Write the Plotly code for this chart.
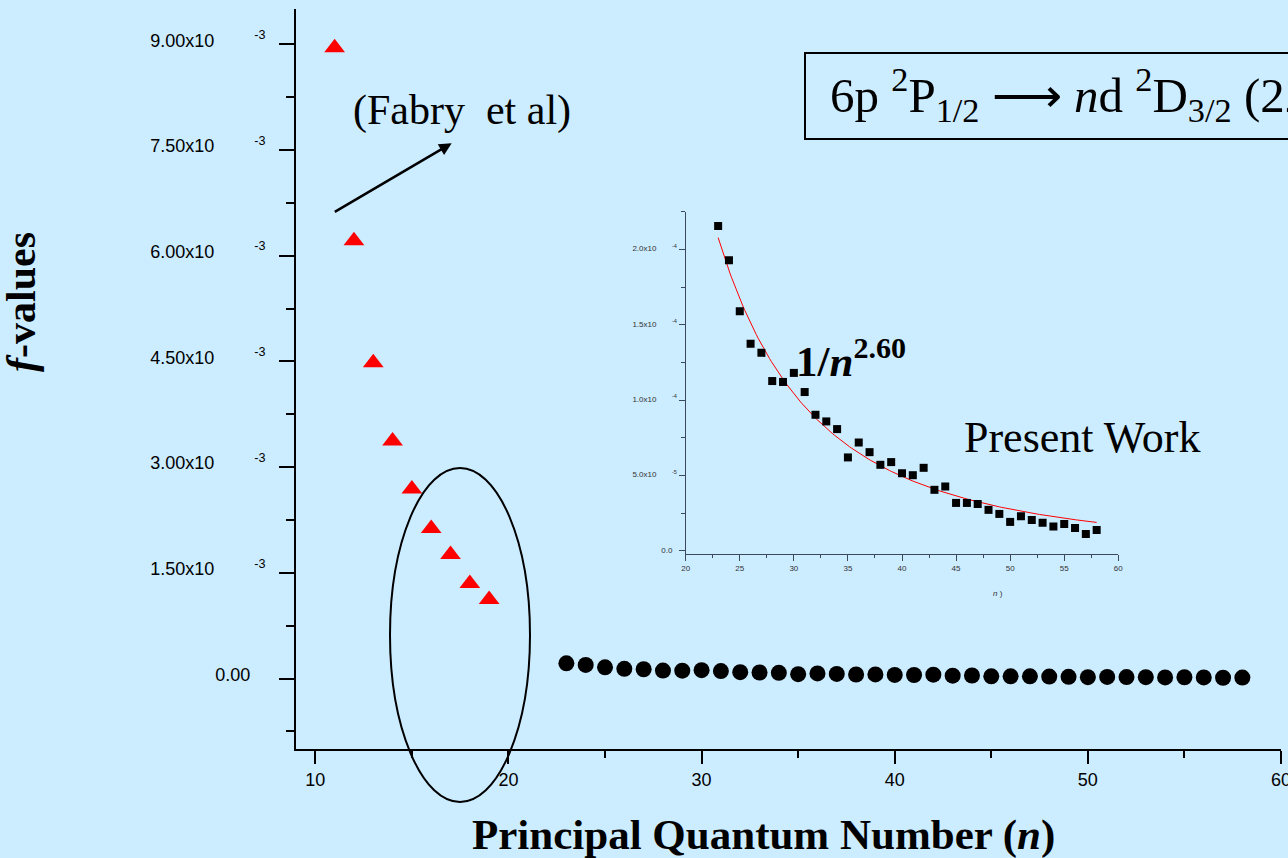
import numpy as np
import plotly.graph_objects as go

# ---- data -------------------------------------------------------------
# Fabry et al. oscillator strengths, n = 11..19
fabry_n = [11, 12, 13, 14, 15, 16, 17, 18, 19]
fabry_f = [8.95e-3, 6.21e-3, 4.48e-3, 3.37e-3, 2.69e-3, 2.13e-3, 1.76e-3, 1.35e-3, 1.12e-3]

# present work, n = 23..58
present_n = list(range(23, 59))
present_f = [
    21.55e-5, 19.27e-5, 15.90e-5, 13.73e-5, 13.13e-5, 11.26e-5, 11.20e-5, 11.80e-5,
    10.53e-5, 9.02e-5, 8.58e-5, 8.07e-5, 6.19e-5, 7.18e-5, 6.54e-5, 5.70e-5,
    5.88e-5, 5.14e-5, 5.01e-5, 5.50e-5, 4.04e-5, 4.26e-5, 3.17e-5, 3.17e-5,
    3.10e-5, 2.71e-5, 2.44e-5, 1.91e-5, 2.28e-5, 2.04e-5, 1.86e-5, 1.60e-5,
    1.77e-5, 1.51e-5, 1.11e-5, 1.37e-5,
]

# scaling law exponent of the fitted curve
FIT_EXPONENT = 2.60

main_ytick_vals = [0, 1.5e-3, 3.0e-3, 4.5e-3, 6.0e-3, 7.5e-3, 9.0e-3]
main_ytick_base = ["0.00", "1.50x10", "3.00x10", "4.50x10", "6.00x10", "7.50x10", "9.00x10"]
main_ytick_exp = ["", "-3", "-3", "-3", "-3", "-3", "-3"]
main_xtick_vals = [10, 20, 30, 40, 50, 60]

inset_ytick_vals = [0, 5e-5, 1e-4, 1.5e-4, 2e-4]
inset_ytick_base = ["0.0", "5.0x10", "1.0x10", "1.5x10", "2.0x10"]
inset_ytick_exp = ["", "-5", "-4", "-4", "-4"]
inset_xtick_vals = [20, 25, 30, 35, 40, 45, 50, 55, 60]

# ---- helpers ----------------------------------------------------------
NB = "\u00a0"


def tick_labels(bases, exps, gap, pad_plain):
    out = []
    for b, e in zip(bases, exps):
        if e:
            out.append(b + NB * gap + "<sup>" + e + "</sup>")
        else:
            out.append(b + NB * pad_plain)
    return out


# least-squares amplitude for f = A / n^p with p fixed
n_arr = np.array(present_n, dtype=float)
f_arr = np.array(present_f)
basis = n_arr ** (-FIT_EXPONENT)
fit_amp = float(np.sum(f_arr * basis) / np.sum(basis * basis))
fit_n = np.linspace(present_n[0], present_n[-1], 200)
fit_f = fit_amp * fit_n ** (-FIT_EXPONENT)

BG = "#CCECFF"
SERIF = "Times New Roman, Liberation Serif, serif"
SANS = "Arial, Liberation Sans, sans-serif"

W, H = 1288, 858
ML, MR, MT, MB = 296, 7, 9, 109
PW, PH = W - ML - MR, H - MT - MB


def px(x):
    return (x - ML) / PW


def py(y):
    return (H - MB - y) / PH


fig = go.Figure()

# main panel
fig.add_trace(go.Scatter(
    x=fabry_n, y=fabry_f, mode="markers",
    marker=dict(symbol="triangle-up", size=18, color="#FF0000"),
    xaxis="x", yaxis="y", showlegend=False,
))
fig.add_trace(go.Scatter(
    x=present_n, y=present_f, mode="markers",
    marker=dict(symbol="circle", size=16, color="black"),
    xaxis="x", yaxis="y", showlegend=False,
))

# inset panel
fig.add_trace(go.Scatter(
    x=fit_n, y=fit_f, mode="lines",
    line=dict(color="#FF0000", width=1),
    xaxis="x2", yaxis="y2", showlegend=False,
))
fig.add_trace(go.Scatter(
    x=present_n, y=present_f, mode="markers",
    marker=dict(symbol="square", size=8, color="black"),
    xaxis="x2", yaxis="y2", showlegend=False,
))

fig.update_layout(
    width=W, height=H,
    margin=dict(l=ML, r=MR, t=MT, b=MB, pad=0, autoexpand=False),
    paper_bgcolor=BG, plot_bgcolor=BG,
    xaxis=dict(
        domain=[0, 1], range=[9, 60], anchor="y", automargin=False,
        showgrid=False, zeroline=False,
        showline=True, linecolor="black", linewidth=2,
        ticks="outside", ticklen=13, tickwidth=1.5, tickcolor="black",
        tickvals=main_xtick_vals, ticktext=[str(v) for v in main_xtick_vals],
        tickfont=dict(family=SANS, size=18, color="black"),
        ticklabeloverflow="allow",
        minor=dict(tickmode="linear", tick0=0, dtick=5, ticks="outside",
                   ticklen=7, tickwidth=1.5, tickcolor="black"),
    ),
    yaxis=dict(
        domain=[0, 1], range=[-1.0e-3, 9.5e-3], anchor="x", automargin=False,
        showgrid=False, zeroline=False,
        showline=True, linecolor="black", linewidth=2,
        ticks="outside", ticklen=15, tickwidth=1.5, tickcolor="black",
        tickvals=main_ytick_vals,
        ticktext=tick_labels(main_ytick_base, main_ytick_exp, 8, 3),
        tickfont=dict(family=SANS, size=18, color="black"),
        ticklabelstandoff=10, ticklabelshift=-4,
        minor=dict(tickmode="linear", tick0=0, dtick=0.75e-3, ticks="outside",
                   ticklen=8, tickwidth=1.5, tickcolor="black"),
    ),
    xaxis2=dict(
        domain=[px(685.7), px(1118.3)], range=[20, 60], anchor="y2", automargin=False,
        showgrid=False, zeroline=False,
        showline=True, linecolor="#3A4A5A", linewidth=1.3,
        ticks="outside", ticklen=6, tickwidth=1, tickcolor="#3A4A5A",
        tickvals=inset_xtick_vals, ticktext=[str(v) for v in inset_xtick_vals],
        tickfont=dict(family=SANS, size=8, color="#333333"),
        minor=dict(tickmode="linear", tick0=20, dtick=2.5, ticks="outside",
                   ticklen=3, tickwidth=1, tickcolor="#3A4A5A"),
    ),
    yaxis2=dict(
        domain=[py(554), py(211.7)], range=[-2.2e-6, 2.25e-4], anchor="x2", automargin=False,
        showgrid=False, zeroline=False,
        showline=True, linecolor="#3A4A5A", linewidth=1.3,
        ticks="outside", ticklen=6, tickwidth=1, tickcolor="#3A4A5A",
        tickvals=inset_ytick_vals,
        ticktext=tick_labels(inset_ytick_base, inset_ytick_exp, 7, 2),
        tickfont=dict(family=SANS, size=8, color="#333333"),
        ticklabelshift=-1,
        minor=dict(tickmode="linear", tick0=0, dtick=2.5e-5, ticks="outside",
                   ticklen=4, tickwidth=1, tickcolor="#3A4A5A"),
    ),
)

# ellipse around the Fabry points near the gap
fig.add_shape(type="circle", xref="paper", yref="paper",
              x0=px(390), x1=px(530), y0=py(802), y1=py(468),
              line=dict(color="black", width=2))

# transition label box (runs past the right edge)
fig.add_shape(type="rect", xref="paper", yref="paper",
              x0=px(805), x1=px(1500), y0=py(139), y1=py(53),
              line=dict(color="black", width=2))

annotations = [
    dict(text="6p <sup>2</sup>P<sub>1/2</sub> \u27f6 <i>n</i>d <sup>2</sup>D<sub>3/2</sub> (22 \u2264 <i>n</i> \u2264 58)",
         x=px(828), y=py(94), xanchor="left", yanchor="middle",
         font=dict(family=SERIF, size=49, color="black")),
    dict(text="(Fabry" + NB + " et al)", x=px(462), y=py(110),
         xanchor="center", yanchor="middle",
         font=dict(family=SERIF, size=42, color="black")),
    dict(text="<b>1/<i>n</i><sup>2.60</sup></b>", x=px(794), y=py(358),
         xanchor="left", yanchor="middle",
         font=dict(family=SERIF, size=43, color="black")),
    dict(text="Present Work", x=px(962), y=py(437),
         xanchor="left", yanchor="middle",
         font=dict(family=SERIF, size=44, color="black")),
    dict(text="<i>n</i> )", x=px(998), y=py(593),
         xanchor="center", yanchor="middle",
         font=dict(family=SANS, size=8, color="#333333")),
    # axis titles
    dict(text="<b>Principal Quantum Number (<i>n</i>)</b>", x=px(763), y=py(835),
         xanchor="center", yanchor="middle",
         font=dict(family=SERIF, size=43, color="black")),
    dict(text="<b><i>f</i>-values</b>", x=px(21), y=py(302), textangle=-90,
         xanchor="center", yanchor="middle",
         font=dict(family=SERIF, size=42, color="black")),
    # arrow pointing to the Fabry label
    dict(text="", x=px(451.7), y=py(143.3), ax=333.3 - 451.7, ay=212.7 - 143.3,
         showarrow=True, arrowhead=2, arrowsize=1, arrowwidth=2.5, arrowcolor="black"),
]
for a in annotations:
    a.setdefault("xref", "paper")
    a.setdefault("yref", "paper")
    a.setdefault("showarrow", False)
    fig.add_annotation(**a)

fig.write_html("out.html")
